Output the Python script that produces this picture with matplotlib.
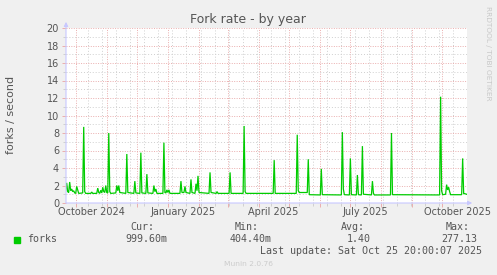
"""Munin 'Fork rate - by year' graph, redrawn with matplotlib."""
from datetime import datetime, timedelta
import matplotlib
matplotlib.use("Agg")
import matplotlib.pyplot as plt
import matplotlib.dates as mdates
import pandas as pd

# daily averages (forks / second)
dates = [
    "2024-09-20", "2024-09-21", "2024-09-22", "2024-09-23", "2024-09-24", "2024-09-25",
    "2024-09-26", "2024-09-27", "2024-09-28", "2024-09-29", "2024-09-30", "2024-10-01",
    "2024-10-02", "2024-10-03", "2024-10-07", "2024-10-08", "2024-10-09", "2024-10-10",
    "2024-10-15", "2024-10-16", "2024-10-17", "2024-10-21", "2024-10-22", "2024-10-23",
    "2024-10-24", "2024-10-25", "2024-10-26", "2024-10-27", "2024-10-28", "2024-10-29",
    "2024-10-30", "2024-10-31", "2024-11-01", "2024-11-02", "2024-11-03", "2024-11-04",
    "2024-11-09", "2024-11-10", "2024-11-11", "2024-11-12", "2024-11-13", "2024-11-19",
    "2024-11-20", "2024-11-21", "2024-11-27", "2024-11-28", "2024-11-29", "2024-12-03",
    "2024-12-04", "2024-12-05", "2024-12-09", "2024-12-10", "2024-12-11", "2024-12-16",
    "2024-12-17", "2024-12-18", "2024-12-19", "2024-12-20", "2024-12-26", "2024-12-27",
    "2024-12-28", "2024-12-29", "2024-12-30", "2024-12-31", "2025-01-01", "2025-01-02",
    "2025-01-12", "2025-01-13", "2025-01-14", "2025-01-16", "2025-01-17", "2025-01-18",
    "2025-01-22", "2025-01-23", "2025-01-24", "2025-01-27", "2025-01-28", "2025-01-29",
    "2025-01-30", "2025-01-31", "2025-02-10", "2025-02-11", "2025-02-12", "2025-02-17",
    "2025-02-18", "2025-02-19", "2025-03-02", "2025-03-03", "2025-03-04", "2025-03-16",
    "2025-03-17", "2025-03-18", "2025-03-19", "2025-04-15", "2025-04-16", "2025-04-17",
    "2025-05-08", "2025-05-09", "2025-05-10", "2025-05-11", "2025-05-19", "2025-05-20",
    "2025-05-21", "2025-06-01", "2025-06-02", "2025-06-03", "2025-06-22", "2025-06-23",
    "2025-06-24", "2025-06-25", "2025-06-30", "2025-07-01", "2025-07-02", "2025-07-07",
    "2025-07-08", "2025-07-09", "2025-07-12", "2025-07-13", "2025-07-14", "2025-07-22",
    "2025-07-23", "2025-07-24", "2025-07-25", "2025-08-10", "2025-08-11", "2025-08-12",
    "2025-09-28", "2025-09-29", "2025-09-30", "2025-10-01", "2025-10-04", "2025-10-05",
    "2025-10-06", "2025-10-07", "2025-10-08", "2025-10-09", "2025-10-20", "2025-10-21",
    "2025-10-22", "2025-10-25",
]
forks = [
    1.4, 2.3, 1.3, 1.2, 2.4, 1.4,
    1.6, 1.3, 1.4, 1.15, 1.1, 1.9,
    1.5, 1.1, 1.15, 8.7, 1.3, 1.1,
    1.1, 1.25, 1.1, 1.1, 1.7, 1.2,
    1.1, 1.45, 1.15, 1.8, 1.3, 1.2,
    2.0, 1.2, 1.15, 8.0, 1.3, 1.1,
    1.15, 2.0, 1.4, 2.0, 1.2, 1.1,
    5.6, 1.2, 1.1, 2.5, 1.15, 1.1,
    5.75, 1.15, 1.1, 3.3, 1.15, 1.1,
    2.0, 1.3, 1.6, 1.1, 1.1, 6.9,
    1.2, 1.15, 1.5, 1.2, 1.5, 1.1,
    1.1, 2.5, 1.2, 1.2, 1.9, 1.2,
    1.1, 2.7, 1.2, 1.1, 2.2, 1.4,
    3.1, 1.2, 1.1, 3.5, 1.2, 1.1,
    1.3, 1.1, 1.1, 3.5, 1.1, 1.1,
    8.8, 1.3, 1.1, 1.1, 4.9, 1.1,
    1.1, 7.8, 1.4, 1.2, 1.2, 5.0,
    0.95, 0.92, 3.9, 0.95, 0.92, 8.1,
    1.6, 0.95, 0.92, 5.1, 0.95, 0.92,
    3.2, 0.95, 0.92, 6.5, 1.0, 0.92,
    2.5, 1.1, 0.92, 0.92, 8.0, 0.95,
    0.92, 12.15, 1.4, 0.95, 1.0, 2.1,
    1.5, 1.8, 1.3, 0.95, 0.95, 5.1,
    1.1, 1.0,
]

month_labels = ["October 2024", "January 2025", "April 2025", "July 2025", "October 2025"]
label_dates = ["2024-10-16", "2025-01-16", "2025-04-16", "2025-07-16", "2025-10-16"]

legend_heads = ["Cur:", "Min:", "Avg:", "Max:"]
legend_vals = ["999.60m", "404.40m", "1.40", "277.13"]
last_update = "Last update: Sat Oct 25 20:00:07 2025"

BG = "#f0f0f0"
TXT = "#555555"
GREEN = "#00cc00"
MGRID = "#eaaeae"
GRID = "#cfcfcf"
AXIS = "#c8c8ff"

fig = plt.figure(figsize=(4.97, 2.75), dpi=100)
fig.patch.set_facecolor(BG)
ax = fig.add_axes([66 / 497, 72 / 275, 401 / 497, 175 / 275])
ax.set_facecolor("white")

x = pd.to_datetime(dates) + pd.Timedelta(hours=12)
ax.plot(x, forks, color=GREEN, lw=0.9, solid_joinstyle="miter", zorder=3)

t_end = datetime(2025, 10, 25, 20, 0)
t_start = t_end - timedelta(days=400)
ax.set_xlim(t_start, t_end)
ax.set_ylim(0, 20)

# grid: red dotted at months / even values, grey dotted at fortnights / odd values
ax.xaxis.set_major_locator(mdates.MonthLocator())
fortnights = mdates.drange(datetime(2024, 10, 13), t_end, timedelta(days=14))
ax.set_xticks(fortnights, minor=True)
ax.xaxis.set_major_formatter(plt.NullFormatter())
ax.set_yticks(range(0, 21, 2))
ax.set_yticks(range(1, 20, 2), minor=True)
ax.grid(which="minor", color=GRID, ls=(0, (1, 2)), lw=0.7)
ax.grid(which="major", color=MGRID, ls=(0, (1, 1.5)), lw=0.7)
ax.set_axisbelow(True)
ax.tick_params(which="major", length=3, width=0.7, color=MGRID, labelsize=7,
               labelcolor=TXT, pad=2)
ax.tick_params(which="minor", length=2, width=0.7, color=GRID)
for s in ax.spines.values():
    s.set_visible(False)

for lab, d in zip(month_labels, label_dates):
    ax.text(pd.Timestamp(d), -0.05, lab, transform=ax.get_xaxis_transform(),
            ha="center", va="center", fontsize=7, color=TXT)

# axis lines with arrows
ax.annotate("", xy=(0, 1.035), xytext=(0, 0), xycoords="axes fraction",
            arrowprops=dict(arrowstyle="-|>", color=AXIS, lw=0.8,
                            mutation_scale=6, shrinkA=0, shrinkB=0))
ax.annotate("", xy=(1.013, 0), xytext=(0, 0), xycoords="axes fraction",
            arrowprops=dict(arrowstyle="-|>", color=AXIS, lw=0.8,
                            mutation_scale=6, shrinkA=0, shrinkB=0))

fig.text(248 / 497, 1 - 19 / 275, "Fork rate - by year", ha="center", va="center",
         fontsize=9, color=TXT)
fig.text(11 / 497, 1 - 115 / 275, "forks / second", rotation=90, ha="center",
         va="center", fontsize=8, color=TXT)
fig.text(488 / 497, 1 - 53 / 275, "RRDTOOL / TOBI OETIKER", rotation=270,
         ha="center", va="center", fontsize=5.3, color="#c8c8c8")

mono = dict(family="DejaVu Sans Mono", fontsize=7.2, color=TXT, va="center")
fig.patches.append(plt.Rectangle((14 / 497, 1 - 243 / 275), 6 / 497, 6 / 275,
                                 transform=fig.transFigure, color=GREEN))
fig.text(27 / 497, 1 - 239.5 / 275, "forks", ha="left", **mono)
for head, val, hx, vx in zip(legend_heads, legend_vals,
                             [154, 259, 365, 470], [167, 272, 371, 477]):
    fig.text(hx / 497, 1 - 227 / 275, head, ha="right", **mono)
    fig.text(vx / 497, 1 - 239.5 / 275, val, ha="right", **mono)
fig.text(482 / 497, 1 - 251.5 / 275, last_update, ha="right", **mono)
fig.text(248 / 497, 1 - 264 / 275, "Munin 2.0.76", ha="center", va="center",
         fontsize=5.4, color="#cccccc")

fig.savefig("out.png", dpi=100, facecolor=BG)
